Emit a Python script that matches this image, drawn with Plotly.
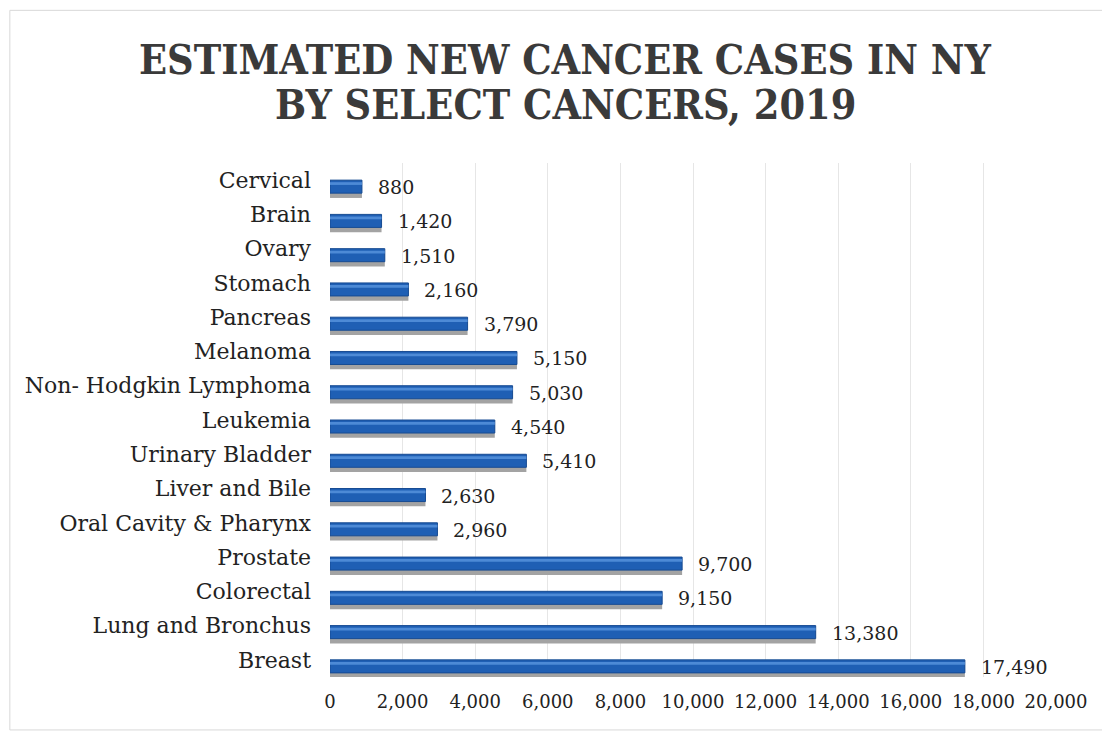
import plotly.graph_objects as go

categories = ["Cervical", "Brain", "Ovary", "Stomach", "Pancreas", "Melanoma",
              "Non- Hodgkin Lymphoma", "Leukemia", "Urinary Bladder", "Liver and Bile",
              "Oral Cavity & Pharynx", "Prostate", "Colorectal", "Lung and Bronchus", "Breast"]
cases = [880, 1420, 1510, 2160, 3790, 5150, 5030, 4540, 5410, 2630, 2960, 9700, 9150, 13380, 17490]
tick_vals = [0, 2000, 4000, 6000, 8000, 10000, 12000, 14000, 16000, 18000, 20000]
tick_text = ["0", "2,000", "4,000", "6,000", "8,000", "10,000", "12,000", "14,000", "16,000", "18,000", "20,000"]
title_lines = ["ESTIMATED NEW CANCER CASES IN NY", "BY SELECT CANCERS, 2019"]

font_family = "DejaVu Serif"
title_family = "DejaVu Serif Condensed, DejaVu Serif"

fig = go.Figure()
# gray shadow under bars
fig.add_trace(go.Bar(
    y=categories, x=cases, orientation="h",
    marker=dict(color="#a3a3a3", line=dict(width=0)),
    width=0.37, offset=0.15, hoverinfo="skip", showlegend=False,
))
# main blue bar
fig.add_trace(go.Bar(
    y=categories, x=cases, orientation="h",
    marker=dict(color="#1f5fb4", line=dict(color="#174b92", width=1)),
    width=0.38, offset=0.0, showlegend=False,
))
# highlight strip
fig.add_trace(go.Bar(
    y=categories, x=cases, orientation="h",
    marker=dict(color="#4d8ad6", line=dict(width=0)),
    width=0.08, offset=0.06, hoverinfo="skip", showlegend=False,
))

annotations = [
    dict(x=v, y=c, xref="x", yref="y", text=f"{v:,}", showarrow=False,
         xanchor="left", yanchor="middle", xshift=14, yshift=-7,
         font=dict(family=font_family, size=19, color="#222222"))
    for c, v in zip(categories, cases)
]
for line, ty in zip(title_lines, [1.200, 1.113]):
    annotations.append(dict(
        x=0.324, y=ty, xref="paper", yref="paper", text=f"<b>{line}</b>", showarrow=False,
        xanchor="center", yanchor="middle",
        font=dict(family=title_family, size=41, color="#3a3a3a"),
    ))

fig.update_layout(
    width=1102, height=724,
    paper_bgcolor="white", plot_bgcolor="white",
    barmode="overlay",
    margin=dict(l=322, r=54, t=155, b=55),
    xaxis=dict(
        range=[0, 20000], tickvals=tick_vals, ticktext=tick_text,
        showgrid=True, gridcolor="#e6e6e6", zeroline=False, showline=False,
        tickfont=dict(family=font_family, size=18, color="#222222"),
        ticks="", ticklen=0, ticklabelstandoff=12,
    ),
    yaxis=dict(
        categoryorder="array", categoryarray=categories, range=[14.5, -0.5],
        showgrid=False, showline=False, zeroline=False, ticks="",
        tickfont=dict(family=font_family, size=22, color="#222222"),
        ticklabelstandoff=18,
    ),
    annotations=annotations,
    shapes=[dict(type="rect", xref="paper", yref="paper", x0=-0.441, x1=1.071, y0=-0.103, y1=1.297,
                 line=dict(color="#d8d8d8", width=1))],
)

fig.write_html("out.html")
